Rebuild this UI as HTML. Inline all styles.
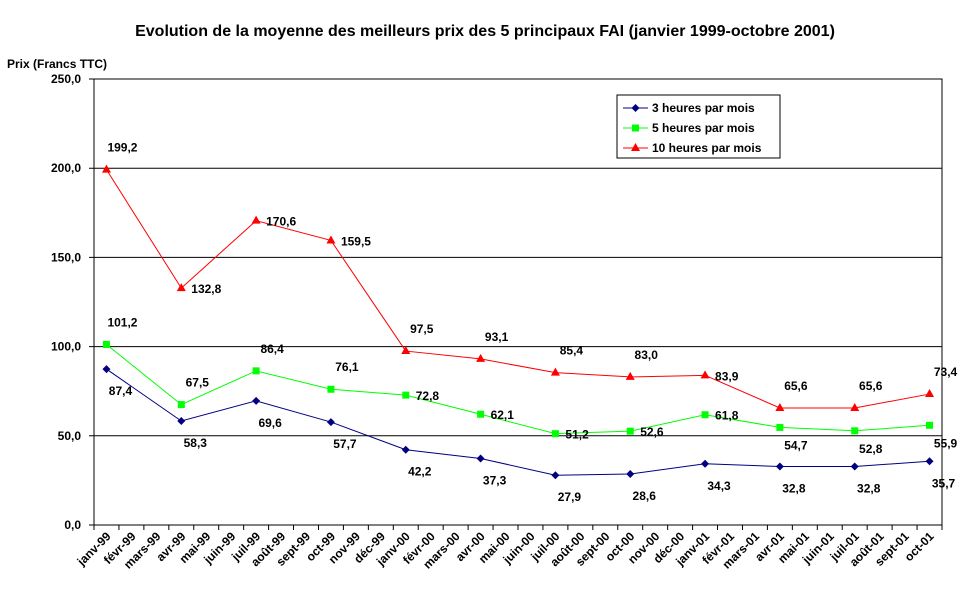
<!DOCTYPE html>
<html><head><meta charset="utf-8"><style>
body{margin:0;background:#fff;font-family:"Liberation Sans",Arial,sans-serif}
svg text{font-family:"Liberation Sans",Arial,sans-serif;font-weight:bold;font-size:12px;fill:#000}
</style></head><body>
<svg width="969" height="603">
<g id="root"></g>
</svg>
<script>
const categories=["janv-99","févr-99","mars-99","avr-99","mai-99","juin-99","juil-99","août-99","sept-99","oct-99","nov-99","déc-99","janv-00","févr-00","mars-00","avr-00","mai-00","juin-00","juil-00","août-00","sept-00","oct-00","nov-00","déc-00","janv-01","févr-01","mars-01","avr-01","mai-01","juin-01","juil-01","août-01","sept-01","oct-01"];
const pointMonths=[0,3,6,9,12,15,18,21,24,27,30,33];
const s3=[87.4,58.3,69.6,57.7,42.2,37.3,27.9,28.6,34.3,32.8,32.8,35.7];
const s5=[101.2,67.5,86.4,76.1,72.8,62.1,51.2,52.6,61.8,54.7,52.8,55.9];
const s10=[199.2,132.8,170.6,159.5,97.5,93.1,85.4,83.0,83.9,65.6,65.6,73.4];
const yTicks=[0,50,100,150,200,250];
const seriesNames=["3 heures par mois","5 heures par mois","10 heures par mois"];
// label placement (style only): b=below,B=near below,a=above,r=right
const pos3=["b","b","b","b","b","b","b","b","b","b","b","b"];
const pos5=["a","a","a","a","r","r","r","r","r","B","B","B"];
const pos10=["a","r","r","r","a","a","a","a","r","a","a","a"];

const NS="http://www.w3.org/2000/svg";
const root=document.getElementById('root');
const L=94,R=942,T=79,B=525;
const step=(R-L)/categories.length;
const x=i=>L+step*(i+0.5);
const y=v=>B-(v/250)*(B-T);
function mk(tag,attrs,parent){const e=document.createElementNS(NS,tag);for(const k in attrs)e.setAttribute(k,attrs[k]);(parent||root).appendChild(e);return e;}
let t=mk('text',{x:485,y:36,'text-anchor':'middle'});t.textContent="Evolution de la moyenne des meilleurs prix des 5 principaux FAI (janvier 1999-octobre 2001)";
t.style.fontSize='16px';
t=mk('text',{x:7,y:68});t.textContent="Prix (Francs TTC)";

let r=mk('rect',{x:L,y:T,width:R-L,height:B-T,fill:'#fff',stroke:'#000'});

yTicks.forEach(v=>{
 const l=mk('line',{x1:L-5,x2:R,y1:y(v),y2:y(v),stroke:'#000'});
 
 const tx=mk('text',{x:L-13,y:y(v)+4,'text-anchor':'end'});tx.textContent=v.toFixed(1).replace('.',',');
 
});
for(let i=0;i<=categories.length;i++){const xx=L+step*i;const l=mk('line',{x1:xx,x2:xx,y1:B,y2:B+5,stroke:'#000'});
 }
categories.forEach((c,i)=>{const tx=mk('text',{transform:`translate(${x(i)+5},${B+12}) rotate(-45)`,'text-anchor':'end'});tx.textContent=c;
 });
function series(vals,posArr,color,marker,name){
 const g=mk('g',{});
 const pl=mk('polyline',{points:vals.map((v,i)=>x(pointMonths[i])+','+y(v)).join(' '),fill:'none',stroke:color,'stroke-width':1},g);
 
 vals.forEach((v,i)=>{
  const cx=x(pointMonths[i]),cy=y(v);let m;
  if(marker==='d')m=mk('polygon',{points:`${cx},${cy-4} ${cx+4},${cy} ${cx},${cy+4} ${cx-4},${cy}`,fill:color},g);
  else if(marker==='s')m=mk('rect',{x:cx-3.5,y:cy-3.5,width:7,height:7,fill:color},g);
  else m=mk('polygon',{points:`${cx},${cy-5} ${cx+4.5},${cy+3} ${cx-4.5},${cy+3}`,fill:color},g);
  
  const p=posArr[i];let lx=cx,ly=cy,an='start';
  if(p==='b'){lx=cx+14;ly=cy+26;an='middle';}else if(p==='B'){lx=cx+16;ly=cy+22;an='middle';}else if(p==='a'){lx=cx+16;ly=cy-18;an='middle';}else{lx=cx+10;ly=cy+5;}
  const tx=mk('text',{x:lx,y:ly,'text-anchor':an},g);tx.textContent=v.toFixed(1).replace('.',',');
  
 });
}
series(s3,pos3,'#000080','d','series-3h');
series(s5,pos5,'#00ff00','s','series-5h');
series(s10,pos10,'#ff0000','t','series-10h');
const lg=mk('g',{});
mk('rect',{x:617,y:95,width:163,height:63,fill:'#fff',stroke:'#000'},lg);
const cols=['#000080','#00ff00','#ff0000'],mks=['d','s','t'];
seriesNames.forEach((n,i)=>{const yy=108+i*20;
 const e=mk('g',{},lg);
 mk('line',{x1:623,x2:648,y1:yy,y2:yy,stroke:cols[i]},e);
 if(mks[i]==='d')mk('polygon',{points:`635.5,${yy-4} 639.5,${yy} 635.5,${yy+4} 631.5,${yy}`,fill:cols[i]},e);
 else if(mks[i]==='s')mk('rect',{x:632,y:yy-3.5,width:7,height:7,fill:cols[i]},e);
 else mk('polygon',{points:`635.5,${yy-5} 640,${yy+3} 631,${yy+3}`,fill:cols[i]},e);
 const tx=mk('text',{x:652,y:yy+4},e);tx.textContent=n;});
</script>
</body></html>
